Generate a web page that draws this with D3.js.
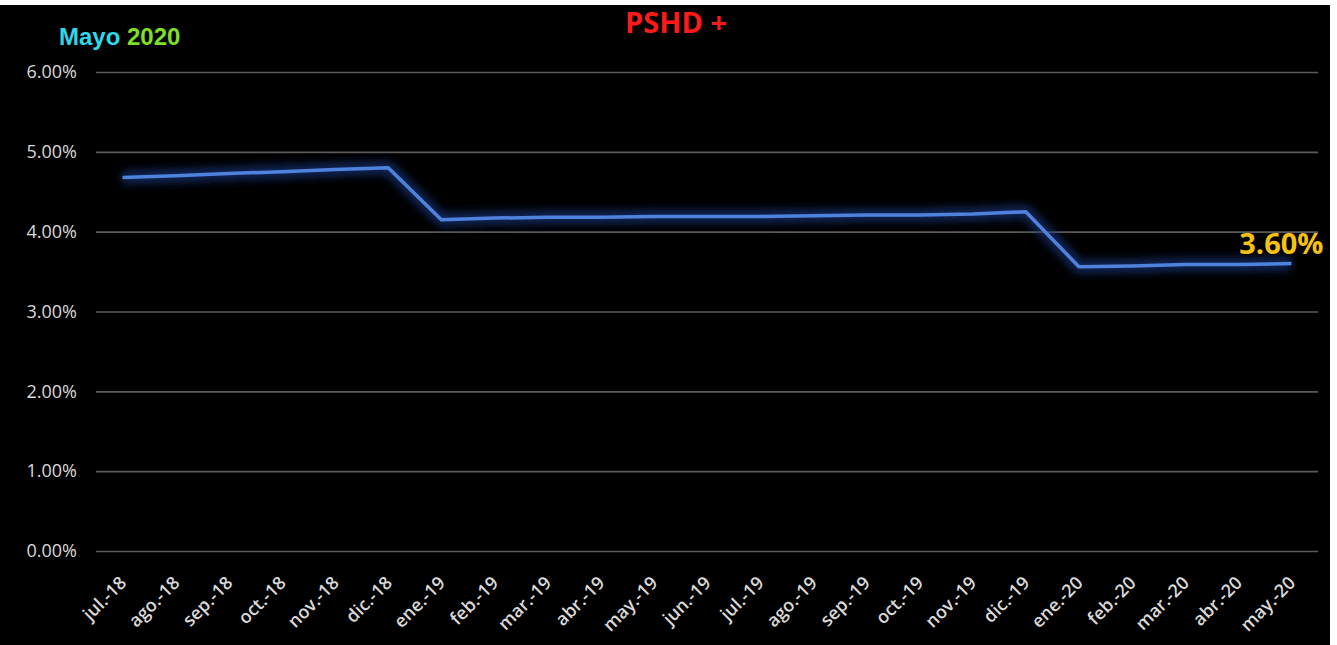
<!DOCTYPE html>
<html>
<head>
<meta charset="utf-8">
<script src="https://cdn.jsdelivr.net/npm/d3@7"></script>
<style>
  body { margin: 0; background: #fff; }
  svg { display: block; }
</style>
</head>
<body>
<div id="chart"></div>
<script>
// months shown on the x axis
var months = ["jul.-18","ago.-18","sep.-18","oct.-18","nov.-18","dic.-18",
  "ene.-19","feb.-19","mar.-19","abr.-19","may.-19","jun.-19","jul.-19","ago.-19",
  "sep.-19","oct.-19","nov.-19","dic.-19","ene.-20","feb.-20","mar.-20","abr.-20","may.-20"]
// PSHD+ rate, percent
var rates = [4.68,4.70,4.73,4.75,4.78,4.80,
  4.15,4.17,4.18,4.18,4.19,4.19,4.19,4.20,
  4.21,4.21,4.22,4.25,3.56,3.57,3.59,3.59,3.60]
var yTicks = [0,1,2,3,4,5,6]

var W = 1337, H = 645
var margin = { top: 72, left: 96, bottom: 94, right: 19 }
var width = W - margin.left - margin.right
var height = H - margin.top - margin.bottom

var root = d3.select("#chart").append("svg")
  .attr("width", W).attr("height", H)

// black panel, white strip at top and right like the screenshot
root.append("rect").attr("x", 0).attr("y", 5).attr("width", 1330).attr("height", H - 5).attr("fill", "#000")

var defs = root.append("defs")
defs.append("filter").attr("id", "blur")
  .attr("x", "-5%").attr("y", "-50%").attr("width", "110%").attr("height", "200%")
  .append("feGaussianBlur").attr("stdDeviation", 5)

var svg = root.append("g")
  .attr("transform", "translate(" + margin.left + "," + margin.top + ")")

var x = d3.scaleBand().domain(months).range([0, width])
var y = d3.scaleLinear().domain([0, 6]).range([height, 0])

var font = "'Open Sans', sans-serif"

// gridlines + y labels
var yAxis = svg.append("g")
  .call(d3.axisLeft(y).tickValues(yTicks).tickSize(-width).tickPadding(19)
    .tickFormat(function(d) { return d.toFixed(2) + "%" }))
yAxis.select(".domain").remove()
yAxis.selectAll("line").attr("stroke", "#5a5a5a").attr("stroke-width", 1.6)
yAxis.selectAll("text")
  .attr("fill", "#d9d9d9")
  .style("font-family", font)
  .style("font-size", "18px")

// x labels
var xAxis = svg.append("g")
  .attr("transform", "translate(0," + height + ")")
  .call(d3.axisBottom(x).tickSize(0))
xAxis.select(".domain").remove()
xAxis.selectAll("text")
  .attr("fill", "#d9d9d9")
  .style("font-family", font)
  .style("font-size", "18px")
  .style("font-weight", "600")
  .attr("text-anchor", "end")
  .attr("dy", null)
  .attr("y", 0)
  .attr("transform", "translate(5,33) rotate(-45)")

// the line, with a soft blue haze under it
var line = d3.line()
  .x(function(d, i) { return x(months[i]) + x.bandwidth() / 2 })
  .y(function(d) { return y(d) })

svg.append("path")
  .datum(rates)
  .attr("d", line)
  .attr("fill", "none")
  .attr("stroke", "#1d3d8a")
  .attr("stroke-width", 12)
  .attr("stroke-opacity", 0.7)
  .attr("stroke-linejoin", "round")
  .attr("filter", "url(#blur)")

svg.append("path")
  .datum(rates)
  .attr("d", line)
  .attr("fill", "none")
  .attr("stroke", "#4f82dc")
  .attr("stroke-width", 3.5)
  .attr("stroke-linejoin", "round")

// last value label
var last = rates.length - 1
svg.append("text")
  .attr("x", x(months[last]) + x.bandwidth() / 2 + 32)
  .attr("y", y(rates[last]) - 10)
  .attr("text-anchor", "end")
  .attr("fill", "#f5c211")
  .style("font-family", font)
  .style("font-weight", "bold")
  .style("font-size", "29px")
  .text(rates[last].toFixed(2) + "%")

// title
root.append("text")
  .attr("x", 676).attr("y", 33)
  .attr("text-anchor", "middle")
  .attr("fill", "#ff1a1a")
  .style("font-family", font)
  .style("font-weight", "bold")
  .style("font-size", "29px")
  .text("PSHD +")

var sub = root.append("text")
  .attr("x", 59).attr("y", 45)
  .style("font-family", "'Liberation Sans', Arial, sans-serif")
  .style("font-weight", "bold")
  .style("font-size", "24px")
sub.append("tspan").attr("fill", "#2ed8ea").text("Mayo ")
sub.append("tspan").attr("fill", "#7ee024").text("2020")
</script>
</body>
</html>
